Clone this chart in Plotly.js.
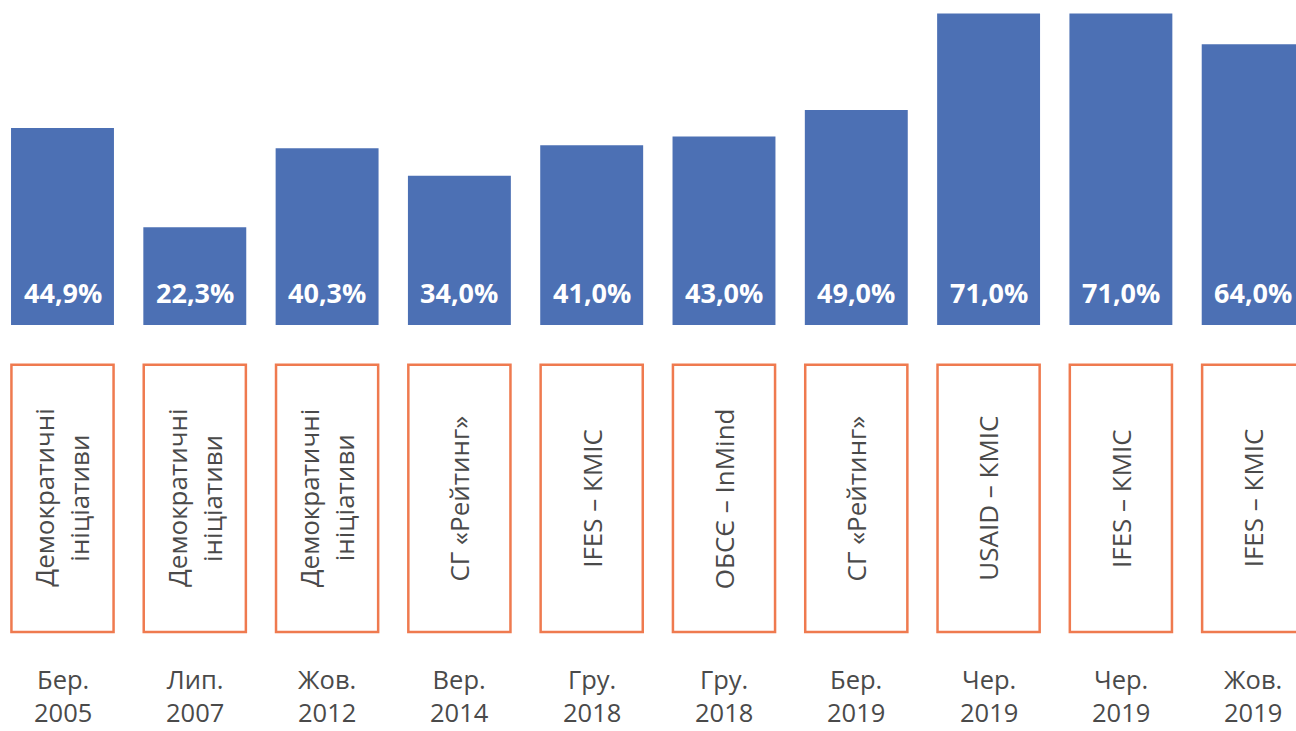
<!DOCTYPE html>
<html><head><meta charset="utf-8">
<script src="https://cdn.plot.ly/plotly-3.0.1.min.js"></script>
<style>html,body{margin:0;padding:0;background:#fff}#c{width:1296px;height:731px}</style>
</head><body><div id="c"></div>
<script>
const values = [44.9, 22.3, 40.3, 34.0, 41.0, 43.0, 49.0, 71.0, 71.0, 64.0];
const valueLabels = ["44,9%","22,3%","40,3%","34,0%","41,0%","43,0%","49,0%","71,0%","71,0%","64,0%"];
const sourceLine1 = ["Демократичні","Демократичні","Демократичні","СГ «Рейтинг»","IFES – КМІС","ОБСЄ – InMind","СГ «Рейтинг»","USAID – КМІС","IFES – КМІС","IFES – КМІС"];
const sourceLine2 = ["ініціативи","ініціативи","ініціативи","","","","","","",""];
const monthLabels = ["Бер.","Лип.","Жов.","Вер.","Гру.","Гру.","Бер.","Чер.","Чер.","Жов."];
const yearLabels = ["2005","2007","2012","2014","2018","2018","2019","2019","2019","2019"];

const idx = values.map((_, i) => i);
const BAR = '#4C70B4', ORANGE = '#EF7A4F', GREY = '#4a4a4a';
const FONT = '"Open Sans", Lato, sans-serif';

const shapes = idx.map(i => ({
  type: 'rect', xref: 'x', yref: 'y',
  x0: i - 0.386, x1: i + 0.386, y0: -9.1, y1: -70.0,
  line: {color: ORANGE, width: 2.5}, fillcolor: 'rgba(0,0,0,0)'
}));

const ann = [];
idx.forEach(i => {
  ann.push({x: i, y: 7.4, xref: 'x', yref: 'y', text: '<b>' + valueLabels[i] + '</b>', showarrow: false,
    font: {family: FONT, size: 27, color: '#ffffff'}});
  if (sourceLine2[i]) {
    ann.push({x: i, y: -39.5, xref: 'x', yref: 'y', text: sourceLine1[i], textangle: -90, showarrow: false, xshift: -18,
      font: {family: FONT, size: 26, color: GREY}});
    ann.push({x: i, y: -39.5, xref: 'x', yref: 'y', text: sourceLine2[i], textangle: -90, showarrow: false, xshift: 17,
      font: {family: FONT, size: 26, color: GREY}});
  } else {
    ann.push({x: i, y: -39.5, xref: 'x', yref: 'y', text: sourceLine1[i], textangle: -90, showarrow: false,
      font: {family: FONT, size: 26, color: GREY}});
  }
  ann.push({x: i, y: -84.6, xref: 'x', yref: 'y', text: monthLabels[i] + '<br>' + yearLabels[i], showarrow: false,
    borderpad: 0, font: {family: FONT, size: 25.5, color: GREY}});
});

Plotly.newPlot('c', [{
  type: 'bar', x: idx, y: values, width: 0.778,
  marker: {color: BAR}, hoverinfo: 'none'
}], {
  width: 1296, height: 731,
  margin: {l: 0, r: 0, t: 0, b: 0},
  paper_bgcolor: '#fff', plot_bgcolor: '#fff',
  showlegend: false,
  xaxis: {range: [-0.4724, 9.3236], visible: false, fixedrange: true},
  yaxis: {range: [-92.6, 74.1], visible: false, fixedrange: true},
  shapes: shapes, annotations: ann
}, {displayModeBar: false, staticPlot: true});
</script></body></html>
